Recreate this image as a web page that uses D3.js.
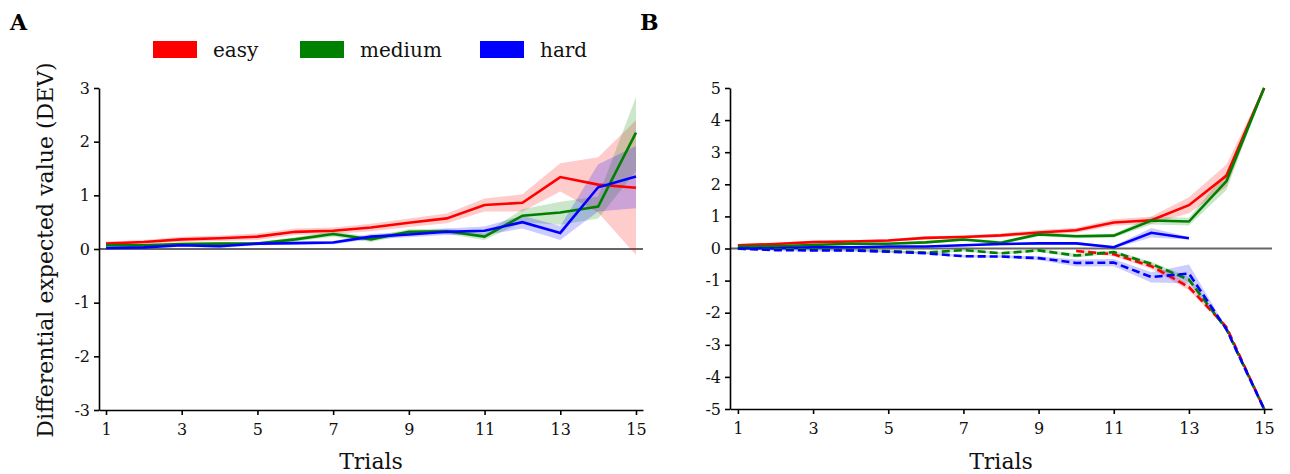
<!DOCTYPE html>
<html>
<head>
<meta charset="utf-8">
<script src="https://cdn.jsdelivr.net/npm/d3@7"></script>
<style>
  body { margin: 0; background: #fff; }
  text { font-family: "DejaVu Serif", serif; }
</style>
</head>
<body>
<svg id="chart" width="1290" height="474"></svg>
<script>
// trials on the x axis
var trials = [1,2,3,4,5,6,7,8,9,10,11,12,13,14,15]
var xTicks = [1,3,5,7,9,11,13,15]

/* panel A : DEV per difficulty */
var easyA    = [0.10,0.13,0.18,0.20,0.23,0.32,0.34,0.40,0.49,0.57,0.82,0.86,1.34,1.20,1.14]
var easyA_lo = [0.06,0.09,0.13,0.15,0.17,0.26,0.28,0.33,0.41,0.48,0.70,0.70,1.07,0.68,-0.11]
var easyA_hi = [0.14,0.17,0.23,0.25,0.29,0.38,0.40,0.47,0.57,0.66,0.94,1.02,1.60,1.71,2.40]
var mediumA    = [0.07,0.07,0.09,0.10,0.10,0.18,0.28,0.18,0.32,0.33,0.23,0.62,0.68,0.79,2.17]
var mediumA_lo = [0.04,0.04,0.06,0.07,0.07,0.14,0.23,0.13,0.27,0.28,0.17,0.50,0.45,0.57,1.45]
var mediumA_hi = [0.10,0.10,0.12,0.13,0.13,0.22,0.33,0.23,0.37,0.38,0.29,0.74,0.88,0.98,2.83]
var hardA    = [0.02,0.03,0.07,0.05,0.10,0.11,0.12,0.23,0.27,0.32,0.34,0.50,0.30,1.15,1.35]
var hardA_lo = [0.00,0.01,0.04,0.02,0.07,0.08,0.09,0.18,0.22,0.26,0.26,0.38,0.17,0.70,0.76]
var hardA_hi = [0.04,0.05,0.10,0.08,0.13,0.14,0.15,0.28,0.32,0.38,0.42,0.62,0.43,1.58,1.92]

/* panel B : positive (solid) and negative (dashed) parts */
var easyB    = [0.10,0.14,0.20,0.22,0.25,0.33,0.36,0.41,0.50,0.57,0.81,0.88,1.35,2.27,5.00]
var easyB_lo = [0.06,0.10,0.16,0.18,0.21,0.28,0.31,0.35,0.42,0.49,0.71,0.76,1.10,1.92,4.95]
var easyB_hi = [0.14,0.18,0.24,0.26,0.29,0.38,0.41,0.47,0.58,0.65,0.91,1.00,1.60,2.62,5.05]
var mediumB    = [0.06,0.07,0.11,0.15,0.15,0.19,0.28,0.18,0.44,0.38,0.40,0.87,0.84,2.10,5.00]
var mediumB_lo = [0.03,0.04,0.07,0.11,0.11,0.15,0.23,0.13,0.38,0.32,0.34,0.75,0.72,1.82,4.95]
var mediumB_hi = [0.09,0.10,0.15,0.19,0.19,0.23,0.33,0.23,0.50,0.44,0.46,0.99,0.96,2.38,5.05]
var hardB    = [0.01,0.01,0.04,0.04,0.06,0.06,0.10,0.14,0.16,0.16,0.04,0.49,0.32]
var hardB_lo = [-0.01,-0.01,0.02,0.02,0.04,0.04,0.07,0.10,0.12,0.12,0.00,0.34,0.28]
var hardB_hi = [0.03,0.03,0.06,0.06,0.08,0.08,0.13,0.18,0.20,0.20,0.08,0.64,0.36]

var easyBneg    = [null,null,null,null,null,null,null,null,null,-0.08,-0.18,-0.55,-1.20,-2.45,-5.00]
var easyBneg_lo = [null,null,null,null,null,null,null,null,null,-0.12,-0.24,-0.63,-1.30,-2.50,-5.00]
var easyBneg_hi = [null,null,null,null,null,null,null,null,null,-0.04,-0.12,-0.47,-1.10,-2.40,-5.00]
var mediumBneg    = [-0.01,-0.02,-0.03,-0.05,-0.08,-0.13,-0.05,-0.15,-0.06,-0.22,-0.11,-0.48,-0.97,-2.52,-5.00]
var mediumBneg_lo = [-0.03,-0.04,-0.05,-0.07,-0.11,-0.16,-0.09,-0.19,-0.11,-0.28,-0.16,-0.55,-1.05,-2.56,-5.00]
var mediumBneg_hi = [0.01,0.00,-0.01,-0.03,-0.05,-0.10,-0.01,-0.11,-0.01,-0.16,-0.06,-0.41,-0.89,-2.48,-5.00]
var hardBneg    = [0.00,-0.05,-0.06,-0.06,-0.10,-0.15,-0.24,-0.25,-0.30,-0.45,-0.44,-0.89,-0.78,-2.52,-5.00]
var hardBneg_lo = [-0.03,-0.08,-0.09,-0.09,-0.13,-0.18,-0.28,-0.29,-0.36,-0.56,-0.55,-1.06,-1.08,-2.56,-5.00]
var hardBneg_hi = [0.03,-0.02,-0.03,-0.03,-0.07,-0.12,-0.20,-0.21,-0.24,-0.34,-0.33,-0.74,-0.50,-2.48,-5.00]

var legendNames = ["easy","medium","hard"]
var colors = {easy:"#ff0000", medium:"#008000", hard:"#0000ff"}

var svg = d3.select("#chart")

function rows(mean, lo, hi){
  return mean.map(function(v,i){ return {t:trials[i], v:v, lo:lo[i], hi:hi[i]} })
}

function drawPanel(opt){
  var g = svg.append("g")
  var x = d3.scaleLinear().domain(opt.xdom).range(opt.xrange)
  var y = d3.scaleLinear().domain(opt.ydom).range(opt.yrange)

  // zero line
  g.append("line")
    .attr("x1", opt.xrange[0]).attr("x2", opt.xrange[1])
    .attr("y1", y(0)).attr("y2", y(0))
    .attr("stroke","#666").attr("stroke-width",1.8)

  var area = d3.area()
    .defined(d => d.v != null)
    .x(d => x(d.t)).y0(d => y(d.lo)).y1(d => y(d.hi))
  var line = d3.line()
    .defined(d => d.v != null)
    .x(d => x(d.t)).y(d => y(d.v))

  opt.series.forEach(function(s){
    g.append("path").datum(s.data)
      .attr("d", area)
      .attr("fill", colors[s.name]).attr("fill-opacity",0.2)
  })
  opt.series.forEach(function(s){
    g.append("path").datum(s.data)
      .attr("d", line)
      .attr("fill","none")
      .attr("stroke", colors[s.name]).attr("stroke-width",2.6)
      .attr("stroke-dasharray", s.dash ? "8,4" : null)
  })

  var xa = g.append("g").attr("transform","translate(0,"+opt.yrange[0]+")")
    .call(d3.axisBottom(x).tickValues(xTicks).tickSize(5).tickSizeOuter(0).tickFormat(d => String(d)))
  var ya = g.append("g").attr("transform","translate("+opt.xrange[0]+",0)")
    .call(d3.axisLeft(y).tickValues(opt.yticks).tickSize(5).tickSizeOuter(0).tickFormat(d => String(d)))
  ;[xa, ya].forEach(function(a){
    a.select(".domain").attr("stroke","#000").attr("stroke-width",1.6)
    a.selectAll(".tick line").attr("stroke","#000").attr("stroke-width",1.6)
    a.selectAll(".tick text").attr("fill","#111")
      .style("font-size","16px")
  })
  xa.selectAll(".tick text").attr("dy","1.05em")
  ya.selectAll(".tick text").attr("x",-9)

  g.append("text")
    .attr("x", (opt.xrange[0]+opt.xrange[1])/2).attr("y", 469)
    .attr("text-anchor","middle").style("font-size","22px").attr("fill","#111")
    .text("Trials")

  g.append("text")
    .attr("x", opt.labelX).attr("y", 30)
    .style("font-size","22px").style("font-weight","bold")
    .text(opt.label)
  return g
}

drawPanel({
  label:"A", labelX:10,
  xdom:[0.815,15.185], xrange:[99,643],
  ydom:[-3,3], yrange:[410,88], yticks:[-3,-2,-1,0,1,2,3],
  series:[
    {name:"easy", data:rows(easyA,easyA_lo,easyA_hi)},
    {name:"medium", data:rows(mediumA,mediumA_lo,mediumA_hi)},
    {name:"hard", data:rows(hardA,hardA_lo,hardA_hi)}
  ]
})

drawPanel({
  label:"B", labelX:640,
  xdom:[0.79,15.21], xrange:[730,1272],
  ydom:[-5,5], yrange:[409,88], yticks:[-5,-4,-3,-2,-1,0,1,2,3,4,5],
  series:[
    {name:"easy", data:rows(easyB,easyB_lo,easyB_hi)},
    {name:"medium", data:rows(mediumB,mediumB_lo,mediumB_hi)},
    {name:"hard", data:rows(hardB,hardB_lo,hardB_hi)},
    {name:"easy", dash:true, data:rows(easyBneg,easyBneg_lo,easyBneg_hi)},
    {name:"medium", dash:true, data:rows(mediumBneg,mediumBneg_lo,mediumBneg_hi)},
    {name:"hard", dash:true, data:rows(hardBneg,hardBneg_lo,hardBneg_hi)}
  ]
})

// y label for panel A
svg.append("text")
  .attr("transform","translate(53,250) rotate(-90)")
  .attr("text-anchor","middle").style("font-size","22px").attr("fill","#111")
  .text("Differential expected value (DEV)")

// legend
var legX = [153,300,480]
var leg = svg.append("g")
legendNames.forEach(function(n,i){
  leg.append("rect").attr("x",legX[i]).attr("y",41).attr("width",44).attr("height",17)
    .attr("fill",colors[n])
  leg.append("text").attr("x",legX[i]+60).attr("y",57)
    .style("font-size","20px").attr("fill","#111").text(n)
})
</script>
</body>
</html>
